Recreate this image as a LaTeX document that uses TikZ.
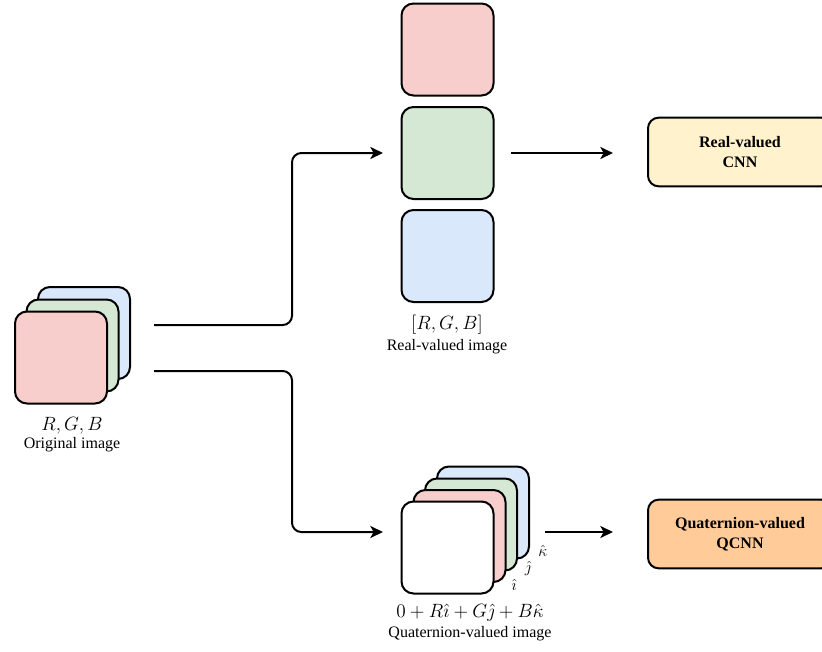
\documentclass[tikz,border=0pt]{standalone}
\usepackage{fontspec}
\setmainfont{Liberation Serif}
\usetikzlibrary{arrows.meta}
\definecolor{cred}{HTML}{F8CECC}
\definecolor{cgreen}{HTML}{D5E8D4}
\definecolor{cblue}{HTML}{DAE8FC}
\definecolor{cyellow}{HTML}{FFF2CC}
\definecolor{corange}{HTML}{FFCC99}
\tikzset{
  img/.style={draw=black, line width=1.5pt, rounded corners=9pt, minimum width=69pt, minimum height=69pt, inner sep=0pt},
  netbox/.style={draw=black, line width=1.5pt, rounded corners=8pt, minimum width=138pt, minimum height=51.5pt, align=center, font=\fontsize{12}{15}\selectfont\bfseries},
  lbl/.style={font=\fontsize{12}{14}\selectfont, inner sep=0pt},
  mathlbl/.style={font=\fontsize{13.5}{16}\selectfont, inner sep=0pt},
  hatlbl/.style={font=\fontsize{12}{14}\selectfont, inner sep=0pt},
  conn/.style={line width=1.5pt, rounded corners=7pt, -{Stealth[length=9.5pt,width=9pt,inset=2.5pt]}}
}
\begin{document}
\begin{tikzpicture}[x=0.75pt,y=-0.75pt]
\useasboundingbox (0,0) rectangle (822,651);
% original image stack
\node[img, fill=cblue] (ob) at (84,333) {};
\node[img, fill=cgreen] (og) at (72.5,345.5) {};
\node[img, fill=cred] (orr) at (61,357.5) {};
\node[mathlbl] (olab1) at (72,426) {$R,G,B$};
\node[lbl] (olab2) at (72,445) {Original image};
% real-valued column
\node[img, fill=cred] (rr) at (447.5,49.5) {};
\node[img, fill=cgreen] (rg) at (447.5,153) {};
\node[img, fill=cblue] (rb) at (447.5,256) {};
\node[mathlbl] (rlab1) at (447,325) {$[R,G,B]$};
\node[lbl] (rlab2) at (447,347) {Real-valued image};
% quaternion stack
\node[img, fill=cblue] (qb) at (483,512.5) {};
\node[img, fill=cgreen] (qg) at (471,524.5) {};
\node[img, fill=cred] (qr) at (459.5,536) {};
\node[img, fill=white] (qw) at (447.5,547.5) {};
\node[hatlbl] (hi) at (514,585) {$\hat{\imath}$};
\node[hatlbl] (hj) at (528,568) {$\hat{\jmath}$};
\node[hatlbl] (hk) at (543,551) {$\hat{\kappa}$};
\node[mathlbl] (qlab1) at (470,613) {$0+R\hat{\imath}+G\hat{\jmath}+B\hat{\kappa}$};
\node[lbl] (qlab2) at (470,634) {Quaternion-valued image};
% networks
\node[netbox, fill=cyellow] (cnn) at (740,152) {Real-valued\\CNN};
\node[netbox, fill=corange] (qcnn) at (740,534) {Quaternion-valued\\QCNN};
% connector coordinates
\coordinate (s1) at (154,325);
\coordinate (s2) at (154,371);
\coordinate (e1) at (383,153);
\coordinate (e2) at (383,532);
\coordinate (a1) at (511,153);
\coordinate (b1) at (613,153);
\coordinate (a2) at (545,532);
\coordinate (b2) at (613,532);
\draw[conn] (s1) -- (292,325) -- (292,153) -- (e1);
\draw[conn] (s2) -- (292,371) -- (292,532) -- (e2);
\draw[conn] (a1) -- (b1);
\draw[conn] (a2) -- (b2);
\end{tikzpicture}
\end{document}
